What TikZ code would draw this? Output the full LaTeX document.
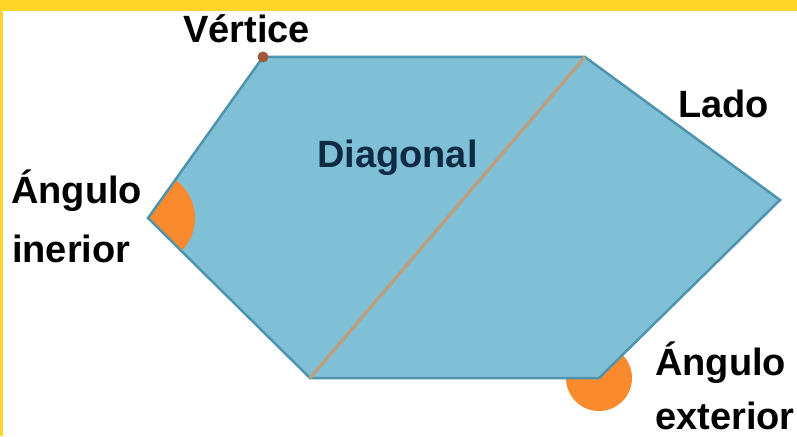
\documentclass[tikz,border=0pt]{standalone}
\usepackage{fontspec}
\setmainfont{Liberation Sans}
\definecolor{hexfill}{HTML}{80C0D6}
\definecolor{hexedge}{HTML}{4E94AE}
\definecolor{diag}{HTML}{B9A080}
\definecolor{angor}{HTML}{F98A2E}
\definecolor{vdot}{HTML}{A0583A}
\definecolor{band}{HTML}{FFD52A}
\definecolor{navy}{HTML}{0D2B45}
\tikzset{
  lbl/.style={anchor=base west, inner sep=0pt, font=\fontsize{38}{40}\selectfont\bfseries, text=black},
}
\begin{document}
\begin{tikzpicture}[x=1pt,y=-1pt]
\useasboundingbox (0,0) rectangle (797,436);
\fill[white] (0,0) rectangle (797,436);
\fill[band] (0,0) rectangle (797,11);
\fill[band] (0,0) rectangle (3,436);
% vertices
\coordinate (tl) at (263,57);
\coordinate (tr) at (585,57);
\coordinate (r) at (780,200);
\coordinate (br) at (599,378);
\coordinate (bl) at (310,378);
\coordinate (l) at (148,218);
% exterior angle (behind hexagon)
\fill[angor] (br) circle[radius=33];
% hexagon
\fill[hexfill] (tl) -- (tr) -- (r) -- (br) -- (bl) -- (l) -- cycle;
% interior angle
\begin{scope}
  \clip (tl) -- (tr) -- (r) -- (br) -- (bl) -- (l) -- cycle;
  \fill[angor] (l) circle[radius=47];
\end{scope}
\draw[hexedge, line width=2.5pt, line join=miter] (tl) -- (tr) -- (r) -- (br) -- (bl) -- (l) -- cycle;
% diagonal
\draw[diag, line width=3.5pt] (tr) -- (bl);
% vertex dot
\fill[vdot] (tl) circle[radius=5.5];
% labels
\node[lbl] (vertice) at (183,43) {Vértice};
\node[lbl] (lado) at (678,117) {Lado};
\node[lbl, text=navy] (diagonal) at (317,167) {Diagonal};
\node[lbl] (ang1) at (11,203) {Ángulo};
\node[lbl] (inerior) at (12,262) {inerior};
\node[lbl] (ang2) at (655,375) {Ángulo};
\node[lbl] (exterior) at (655,429) {exterior};
\end{tikzpicture}
\end{document}
